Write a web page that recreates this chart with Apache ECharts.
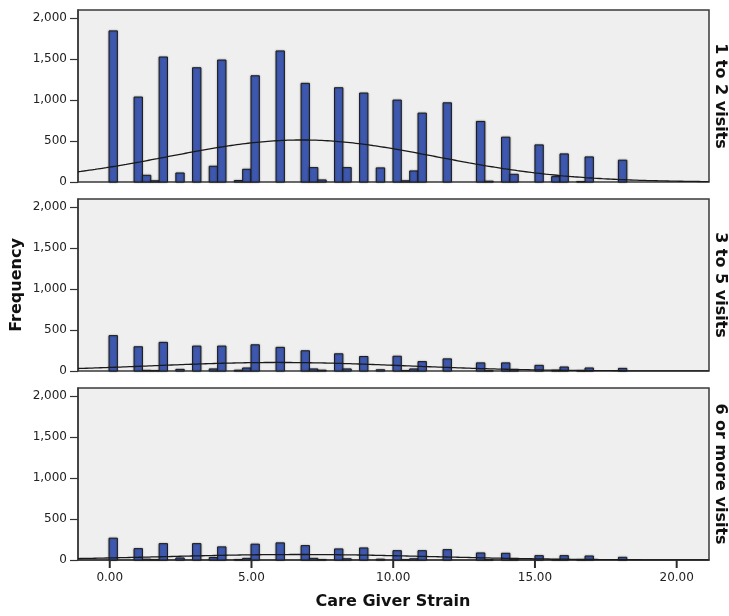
<!DOCTYPE html>
<html>
<head>
<meta charset="utf-8">
<script src="https://cdn.jsdelivr.net/npm/echarts@6/dist/echarts.min.js"></script>
<style>html,body{margin:0;padding:0;background:#fff}#c{width:729px;height:616px}</style>
</head>
<body>
<div id="c"></div>
<script>
// Histogram binning (data units of Care Giver Strain)
const BIN_START = -0.025;
const BIN_WIDTH = 0.2946;
// Index of each non-empty bin
const binIndex = [0,3,4,5,6,8,10,12,13,15,16,17,20,23,24,25,27,28,30,32,34,35,36,37,40,44,45,47,48,51,53,54,56,57,61];
// Frequencies per bin, one array per panel
const counts1to2 = [1845,1037,82,15,1526,110,1395,192,1489,18,155,1297,1600,1204,176,25,1151,176,1086,172,1000,15,135,841,967,739,10,547,94,453,66,343,5,306,266];
const counts3to5 = [432,296,8,5,349,20,304,25,304,10,37,320,288,247,25,10,210,25,177,15,180,5,25,115,148,99,3,99,15,69,8,49,2,37,32];
const counts6plus = [266,139,10,3,200,25,200,30,160,5,20,193,209,176,20,5,135,15,147,10,114,3,15,114,127,86,2,82,10,53,5,53,2,49,33];
const panelLabels = ['1 to 2 visits', '3 to 5 visits', '6 or more visits'];
const xTicks = [0, 5, 10, 15, 20];
const X_MIN = -1.12, X_MAX = 21.14, Y_MAX = 2100;

const panels = [counts1to2, counts3to5, counts6plus];
const tops = [10, 199, 388];
const FONT = 'DejaVu Sans';

function barData(counts) {
  return binIndex.map((k, i) => [BIN_START + k * BIN_WIDTH, BIN_START + (k + 1) * BIN_WIDTH, counts[i]]);
}
function normalCurve(counts) {
  let n = 0, s = 0, s2 = 0;
  binIndex.forEach((k, i) => {
    const c = BIN_START + (k + 0.5) * BIN_WIDTH;
    n += counts[i]; s += counts[i] * c; s2 += counts[i] * c * c;
  });
  const mean = s / n;
  const sd = Math.sqrt((s2 - n * mean * mean) / (n - 1));
  const pts = [];
  for (let x = X_MIN; x <= X_MAX + 1e-9; x += 0.05) {
    const z = (x - mean) / sd;
    pts.push([x, n * BIN_WIDTH * Math.exp(-0.5 * z * z) / (sd * Math.sqrt(2 * Math.PI))]);
  }
  return pts;
}

const grids = [], xAxes = [], yAxes = [], series = [], graphics = [];
panels.forEach((counts, p) => {
  grids.push({left: 78, width: 631, top: tops[p], height: 172, show: true,
    backgroundColor: '#efefef', borderColor: '#3a3a3a', borderWidth: 1.5});
  const last = p === panels.length - 1;
  xAxes.push({type: 'value', gridIndex: p, min: X_MIN, max: X_MAX, position: 'bottom',
    splitLine: {show: false},
    axisLine: {show: last, onZero: false, lineStyle: {color: '#3a3a3a', width: 1.5}},
    axisTick: {show: false},
    axisLabel: {show: last, customValues: xTicks, margin: 12, color: '#222', fontFamily: FONT, fontSize: 12,
      formatter: v => v.toFixed(2)}
  });
  yAxes.push({type: 'value', gridIndex: p, min: 0, max: Y_MAX, interval: 500, position: 'left',
    splitLine: {show: false},
    axisLine: {show: true, onZero: false, lineStyle: {color: '#3a3a3a', width: 1.5}},
    axisTick: {show: true, length: 8, lineStyle: {color: '#333', width: 1.2}},
    axisLabel: {margin: 11, color: '#222', fontFamily: FONT, fontSize: 12,
      formatter: v => v > Y_MAX - 1 ? '' : v.toLocaleString('en-US'),
      showMaxLabel: false}
  });
  series.push({type: 'custom', xAxisIndex: p, yAxisIndex: p, data: barData(counts),
    encode: {x: [0, 1], y: 2}, z: 2, silent: true,
    renderItem: (params, api) => {
      const a = api.coord([api.value(0), api.value(2)]);
      const b = api.coord([api.value(1), 0]);
      return {type: 'rect', shape: {x: a[0], y: a[1], width: b[0] - a[0], height: b[1] - a[1]},
        style: {fill: '#3d58ae', stroke: '#1c1c1c', lineWidth: 1,
          shadowBlur: 2, shadowColor: 'rgba(0,0,0,0.35)'}};
    }
  });
  series.push({type: 'line', xAxisIndex: p, yAxisIndex: p, data: normalCurve(counts),
    showSymbol: false, smooth: false, z: 5, silent: true,
    lineStyle: {color: '#1a1a1a', width: 1.3}});
  graphics.push({type: 'text', x: 720, y: tops[p] + 86, rotation: -Math.PI / 2,
    style: {text: panelLabels[p], font: 'bold 16px "DejaVu Sans"', fill: '#111',
      align: 'center', verticalAlign: 'middle'}});
});
graphics.push({type: 'text', x: 17, y: 285, rotation: Math.PI / 2,
  style: {text: 'Frequency', font: 'bold 16px "DejaVu Sans"', fill: '#111', align: 'center', verticalAlign: 'middle'}});
graphics.push({type: 'text', x: 393, y: 602,
  style: {text: 'Care Giver Strain', font: 'bold 16px "DejaVu Sans"', fill: '#111', align: 'center', verticalAlign: 'middle'}});

const chart = echarts.init(document.getElementById('c'), null, {renderer: 'canvas'});
chart.setOption({animation: false, backgroundColor: '#fff', grid: grids, xAxis: xAxes, yAxis: yAxes,
  series: series, graphic: graphics});

// x-axis tick marks under the bottom panel, positioned through the x scale
const lastIdx = panels.length - 1;
let yBase = chart.convertToPixel({yAxisIndex: lastIdx}, 0);
if (Array.isArray(yBase)) yBase = yBase[1];
xTicks.forEach(v => {
  let px = chart.convertToPixel({xAxisIndex: lastIdx}, v);
  if (Array.isArray(px)) px = px[0];
  graphics.push({type: 'rect', shape: {x: px - 1, y: yBase, width: 2, height: 8},
    style: {fill: '#2b2b2b'}, silent: true, z: 100});
});
chart.setOption({graphic: graphics});
</script>
</body>
</html>
